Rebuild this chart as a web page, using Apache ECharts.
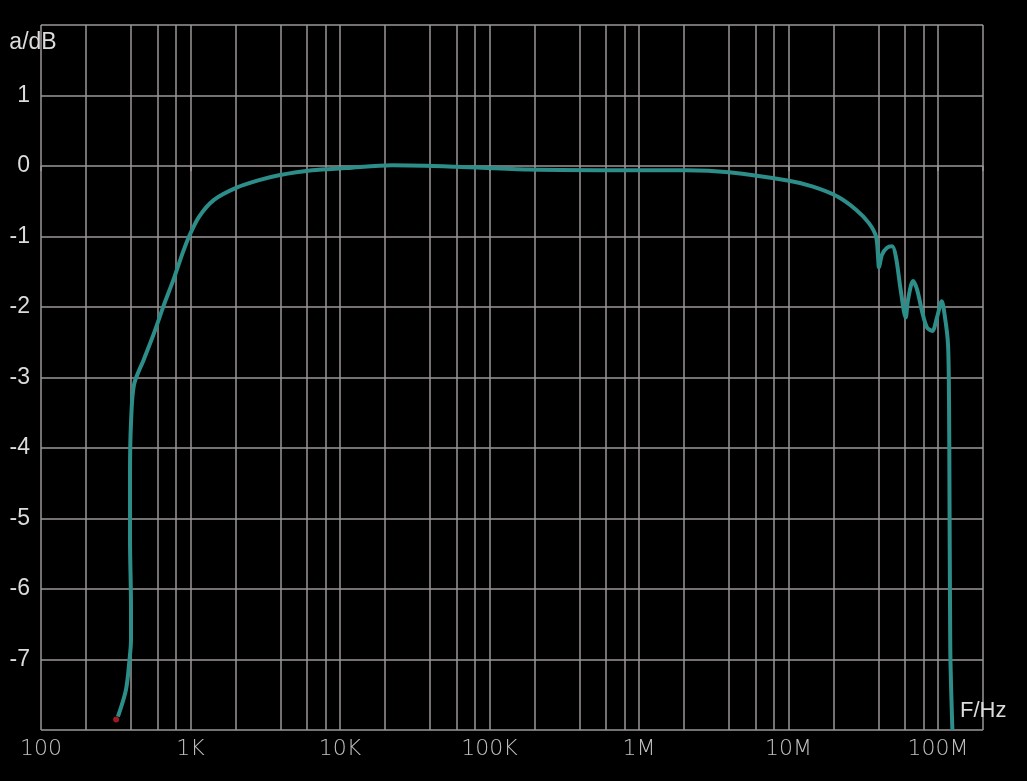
<!DOCTYPE html>
<html>
<head>
<meta charset="utf-8">
<script src="https://cdn.jsdelivr.net/npm/echarts@6/dist/echarts.min.js"></script>
<style>
html,body{margin:0;padding:0;background:#000;}
#chart{width:1027px;height:781px;}
</style>
</head>
<body>
<div id="chart"></div>
<script>
// Frequency (Hz) and attenuation (dB)
const freqHz = [327, 370, 391, 400, 400, 394, 394, 400, 419, 488, 570, 664, 776, 877, 978, 1140, 1436, 2015, 2873, 3908, 6500, 10970, 22280, 59700, 183700, 857000, 2060000, 4000000, 10070000, 14400000, 21100000, 28300000, 34500000, 38500000, 39700000, 40300000, 42200000, 45600000, 49400000, 52400000, 56200000, 60800000, 63000000, 68100000, 72400000, 78600000, 84400000, 91600000, 98400000, 105900000, 111400000, 116700000, 118500000, 119400000, 120300000, 121200000, 124800000];
const gainDb = [-7.81, -7.43, -7.0, -6.72, -6.25, -5.30, -4.35, -3.64, -3.10, -2.74, -2.37, -1.97, -1.59, -1.26, -1.0, -0.72, -0.48, -0.31, -0.20, -0.13, -0.06, -0.03, 0.01, -0.01, -0.05, -0.06, -0.06, -0.09, -0.21, -0.29, -0.43, -0.62, -0.81, -1.0, -1.28, -1.44, -1.26, -1.16, -1.14, -1.30, -1.75, -2.15, -1.90, -1.63, -1.75, -2.08, -2.29, -2.34, -2.15, -1.92, -2.15, -2.53, -3.32, -4.73, -6.15, -7.04, -8.0];
const startMarkFreq = [318];
const startMarkDb = [-7.85];
const xTickLabels = {100: '100', 1000: '1K', 10000: '10K', 100000: '100K', 1000000: '1M', 10000000: '10M', 100000000: '100M'};
const minorGridFreqs = [200, 400, 600, 800, 2000, 4000, 6000, 8000, 20000, 40000, 60000, 80000, 200000, 400000, 600000, 800000, 2000000, 4000000, 6000000, 8000000, 20000000, 40000000, 60000000, 80000000];

const gridColor = '#9d9797';
const curveData = freqHz.map((f, i) => [f, gainDb[i]]);
const markData = startMarkFreq.map((f, i) => [f, startMarkDb[i]]);

const chart = echarts.init(document.getElementById('chart'), null, {renderer: 'canvas'});
chart.setOption({
  backgroundColor: '#000000',
  animation: false,
  title: {
    text: 'F/Hz',
    left: 960,
    top: 700,
    padding: 0,
    textStyle: {color: '#dcdcdc', fontSize: 22, fontWeight: 'normal', fontFamily: 'Liberation Sans, Arial, sans-serif'}
  },
  grid: {left: 41, right: 44, top: 25, bottom: 51, containLabel: false, outerBoundsMode: 'none'},
  xAxis: {
    type: 'log',
    logBase: 10,
    min: 100,
    max: 200000000,
    splitNumber: 6,
    axisLine: {show: false},
    axisTick: {show: true, length: 5, inside: false, lineStyle: {color: gridColor, width: 1.5}},
    axisLabel: {
      color: '#c4c0c0',
      fontSize: 22,
      fontFamily: 'DejaVu Sans, sans-serif',
      fontWeight: 200,
      margin: 8,
      showMinLabel: true,
      showMaxLabel: true,
      formatter: function (v) {
        const lg = Math.log10(v);
        if (Math.abs(lg - Math.round(lg)) > 1e-6) return '';
        return xTickLabels[Math.pow(10, Math.round(lg))] || '';
      }
    },
    splitLine: {show: true, lineStyle: {color: gridColor, width: 1.5}}
  },
  yAxis: {
    type: 'value',
    min: -8,
    max: 2,
    interval: 1,
    name: 'a/dB',
    nameLocation: 'end',
    nameGap: -18,
    nameMoveOverlap: false,
    nameTextStyle: {color: '#dcdcdc', fontSize: 23, fontFamily: 'Liberation Sans, Arial, sans-serif', align: 'center', verticalAlign: 'middle', padding: [0, 16, 0, 0]},
    axisLine: {show: false},
    axisTick: {show: false},
    axisLabel: {
      color: '#dcdcdc',
      fontSize: 23,
      fontFamily: 'Liberation Sans, Arial, sans-serif',
      margin: 11,
      formatter: function (v) {
        if (v >= 2 || v <= -8) return '';
        return String(v);
      }
    },
    splitLine: {show: true, lineStyle: {color: gridColor, width: 1.5}}
  },
  series: [
    {
      type: 'line',
      name: 'grid',
      data: [],
      z: 1,
      silent: true,
      markLine: {
        silent: true,
        symbol: ['none', 'none'],
        label: {show: false},
        lineStyle: {color: gridColor, width: 1.5, type: 'solid'},
        emphasis: {disabled: true},
        data: minorGridFreqs.map(f => ({xAxis: f}))
      }
    },
    {
      type: 'line',
      name: 'a',
      data: curveData,
      z: 5,
      smooth: 0.3,
      showSymbol: false,
      symbol: 'none',
      lineStyle: {color: '#2d8d89', width: 4},
      silent: true
    },
    {
      type: 'scatter',
      name: 'start',
      data: markData,
      z: 6,
      symbolSize: 6,
      itemStyle: {color: '#c0202a'},
      silent: true
    }
  ]
});
</script>
</body>
</html>
